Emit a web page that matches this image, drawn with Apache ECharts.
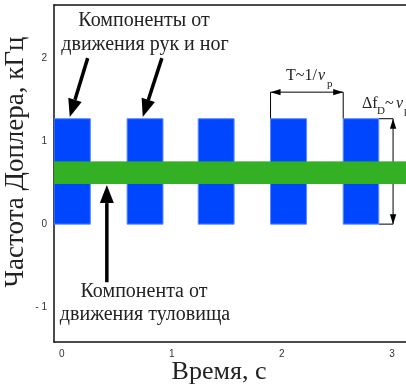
<!DOCTYPE html>
<html><head><meta charset="utf-8">
<script src="https://cdn.jsdelivr.net/npm/echarts@6/dist/echarts.min.js"></script>
<style>html,body{margin:0;padding:0;background:#fff}#c{width:406px;height:386px}</style>
</head><body><div id="c"></div>
<script>
// Data
const xTicks = [0, 1, 2, 3];
const yTicks = [-1, 0, 1, 2];
const limbStart = [-0.07, 0.594, 1.24, 1.897, 2.557];
const limbEnd = [0.26, 0.92, 1.566, 2.224, 2.88];
const limbLow = [0, 0, 0, 0, 0];
const limbHigh = [1.27, 1.27, 1.27, 1.27, 1.27];
const torsoStart = [-0.07];
const torsoEnd = [3.4];
const torsoLow = [0.49];
const torsoHigh = [0.75];

const limbData = limbStart.map((s, i) => [s, limbEnd[i], limbLow[i], limbHigh[i]]);
const torsoData = torsoStart.map((s, i) => [s, torsoEnd[i], torsoLow[i], torsoHigh[i]]);

function rectRenderer(fill, stroke) {
  return function (params, api) {
    const p0 = api.coord([api.value(0), api.value(3)]);
    const p1 = api.coord([api.value(1), api.value(2)]);
    return {
      type: 'rect',
      shape: { x: p0[0], y: p0[1], width: p1[0] - p0[0], height: p1[1] - p0[1] },
      style: { fill: fill, stroke: stroke, lineWidth: 1 }
    };
  };
}

const chart = echarts.init(document.getElementById('c'), null, { renderer: 'canvas' });
const serif = '"Liberation Serif", "DejaVu Serif", serif';
const lineStyle = { color: '#111', width: 1.5 };
chart.setOption({
  animation: false,
  grid: { left: 54, top: 5, width: 382, bottom: 44, outerBoundsMode: 'none', containLabel: false },
  xAxis: [{
    type: 'value', min: -0.07, max: 3.4, position: 'bottom',
    axisLine: { show: true, onZero: false, lineStyle: lineStyle }, axisTick: { show: false }, splitLine: { show: false },
    axisLabel: { customValues: xTicks, color: '#333', fontSize: 10, margin: 7, fontFamily: 'Liberation Sans, Arial, sans-serif' }
  }, {
    type: 'value', min: -0.07, max: 3.4, position: 'top',
    axisLine: { show: true, onZero: false, lineStyle: lineStyle }, axisTick: { show: false }, splitLine: { show: false },
    axisLabel: { show: false }
  }],
  yAxis: {
    type: 'value', min: -1.42, max: 2.64,
    axisLine: { show: true, onZero: false, lineStyle: lineStyle }, axisTick: { show: false }, splitLine: { show: false },
    axisLabel: { customValues: yTicks, color: '#333', fontSize: 10, margin: 7, fontFamily: 'Liberation Sans, Arial, sans-serif',
      formatter: v => v < 0 ? '- ' + Math.abs(v) : String(v) }
  },
  series: [
    { type: 'custom', clip: true, renderItem: rectRenderer('#0046ff', '#5a8cff'), encode: { x: [0, 1], y: [2, 3] }, data: limbData, silent: true, z: 1 },
    { type: 'custom', clip: true, renderItem: rectRenderer('#33b024', '#33b024'), encode: { x: [0, 1], y: [2, 3] }, data: torsoData, silent: true, z: 1 }
  ]
});

function px(x, y) { return chart.convertToPixel({ xAxisIndex: 0, yAxisIndex: 0 }, [x, y]); }

function arrowHead(tip, from, len, half) {
  const dx = tip[0] - from[0], dy = tip[1] - from[1];
  const d = Math.hypot(dx, dy), ux = dx / d, uy = dy / d;
  const bx = tip[0] - ux * len, by = tip[1] - uy * len;
  return { pts: [tip, [bx - uy * half, by + ux * half], [bx + uy * half, by - ux * half]], base: [bx, by] };
}
const els = [];
function thickArrow(tail, tip) {
  const h = arrowHead(tip, tail, 18, 7);
  els.push({ type: 'line', shape: { x1: tail[0], y1: tail[1], x2: h.base[0], y2: h.base[1] }, style: { stroke: '#000', lineWidth: 3.5 } });
  els.push({ type: 'polygon', shape: { points: h.pts }, style: { fill: '#000' } });
}
function thinLine(a, b) {
  els.push({ type: 'line', shape: { x1: a[0], y1: a[1], x2: b[0], y2: b[1] }, style: { stroke: '#000', lineWidth: 1 } });
}
function thinDoubleArrow(a, b) {
  thinLine(a, b);
  els.push({ type: 'polygon', shape: { points: arrowHead(a, b, 10, 3.2).pts }, style: { fill: '#000' } });
  els.push({ type: 'polygon', shape: { points: arrowHead(b, a, 10, 3.2).pts }, style: { fill: '#000' } });
}
function text(str, pos, size, align, extra, italic) {
  els.push(Object.assign({ type: 'text', x: pos[0], y: pos[1], style: { text: str, fill: '#222', font: (italic ? 'italic ' : '') + size + 'px ' + serif, align: align || 'center', verticalAlign: 'middle' } }, extra || {}));
}

// annotations anchored on data coordinates
thickArrow(px(0.236, 2.0), px(0.073, 1.29));
thickArrow(px(0.91, 2.0), px(0.736, 1.29));
thickArrow(px(0.41, -0.70), px(0.41, 0.47));

const topY = limbHigh[0], arrowY = 1.59;
thinLine(px(limbStart[3], topY), px(limbStart[3], arrowY));
thinLine(px(limbStart[4], topY), px(limbStart[4], arrowY));
thinDoubleArrow(px(limbStart[3], arrowY), px(limbStart[4], arrowY));
const dx = 3.01;
thinLine(px(limbEnd[4], topY), px(dx, topY));
thinLine(px(limbEnd[4], 0), px(dx, 0));
thinDoubleArrow(px(dx, topY), px(dx, 0));

text('Компоненты от', [144, 21], 20);
text('движения рук и ног', [145, 45], 20);
text('Компонента от', [144, 292], 20);
text('движения туловища', [145, 315], 20);

// T~1/νp
text('T~1/', [286, 76], 16, 'left');
text('ν', [318, 76], 16, 'left', null, true);
text('p', [327, 84], 11, 'left');
// ΔfD~νp
text('Δf', [362, 104], 16, 'left');
text('D', [377, 111], 11, 'left');
text('~', [385, 104], 16, 'left');
text('ν', [396, 104], 16, 'left', null, true);
text('p', [404, 111], 11, 'left');

// axis titles
text('Время, с', [219, 372], 26);
text('Частота Доплера, кГц', [16, 162], 27, 'center', { rotation: Math.PI / 2 });

chart.setOption({ graphic: { elements: els } });
</script></body></html>
